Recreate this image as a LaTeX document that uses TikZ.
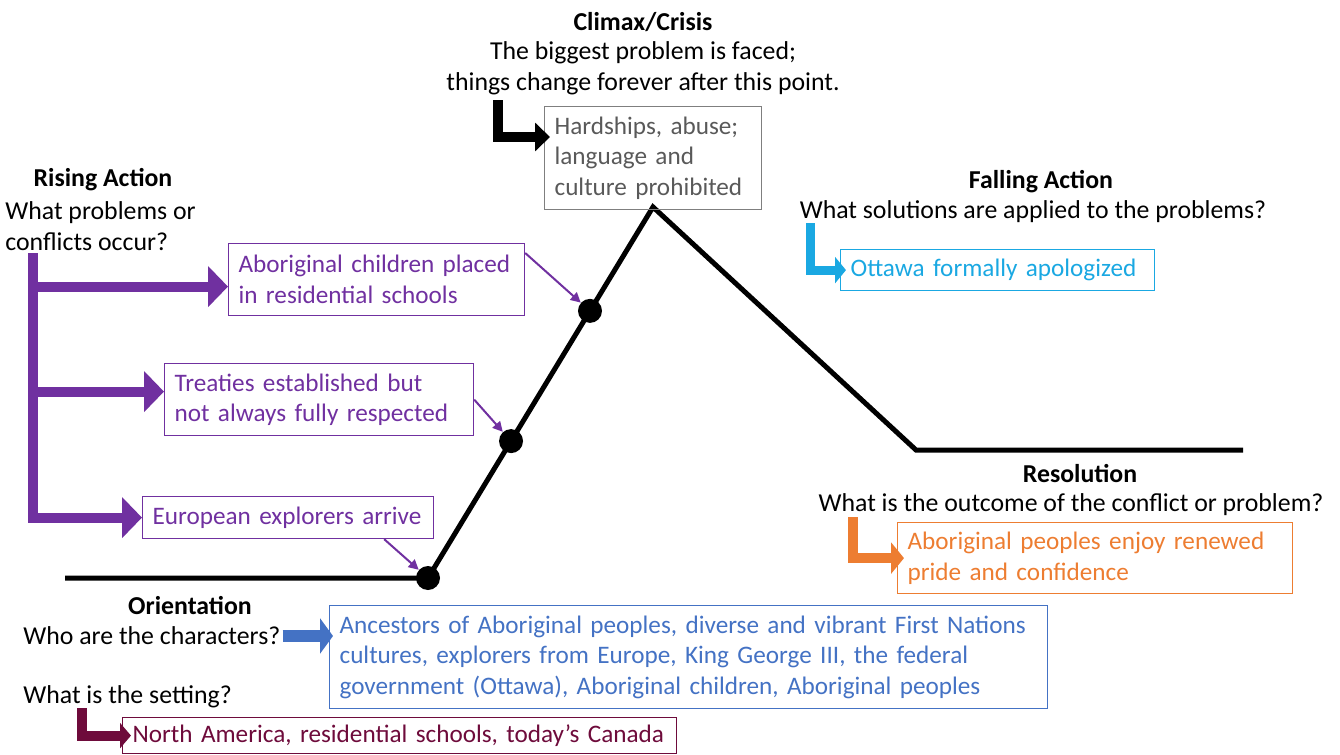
\documentclass[tikz,border=0pt]{standalone}
\usepackage{fontspec}
\setmainfont{Carlito}
\usepackage{xcolor}
\usetikzlibrary{calc, positioning, arrows.meta}
\definecolor{arcPurple}{HTML}{7030A0}
\definecolor{arcCyan}{HTML}{1AA8E2}
\definecolor{arcOrange}{HTML}{ED7D31}
\definecolor{arcBlue}{HTML}{4472C4}
\definecolor{arcMaroon}{HTML}{6E0B3B}
\definecolor{arcGrey}{HTML}{7F7F7F}
\definecolor{arcGreyText}{HTML}{595959}
\tikzset{
    plotline/.style={line width=2.5pt, draw=black},
    plotdot/.style={circle, fill=black, inner sep=0pt, minimum size=12pt},
    heading/.style={font=\fontsize{12.9}{15.3}\selectfont\bfseries, inner sep=0pt},
    question/.style={font=\fontsize{12.9}{15.3}\selectfont, inner sep=0pt, align=center},
    event/.style={rectangle, draw=#1, text=#1, line width=0.6pt, anchor=north west, align=left, inner xsep=5pt, inner ysep=0pt, font=\fontsize{12.6}{15.3}\selectfont},
    fatarrow/.style n args={4}{draw=#1, line width=#2, -{Triangle[length=#3, width=#4]}},
    pointer/.style={draw=arcPurple, line width=1pt, -{Triangle[length=5pt, width=5pt]}}
}
\begin{document}
\begin{tikzpicture}[x=0.5pt, y=-0.5pt]
    \useasboundingbox (0,0) rectangle (1340,755);

    % Plot line
    \coordinate (plotStart) at (65,578);
    \coordinate (turnUp) at (428,578);
    \coordinate (peak) at (653,207);
    \coordinate (valley) at (916,450);
    \coordinate (plotEnd) at (1243,450);
    \draw[plotline] (plotStart) -- (turnUp) -- (peak) -- (valley) -- (plotEnd);
    \node[plotdot] (dotEuro) at (turnUp) {};
    \node[plotdot] (dotTreaty) at ($(turnUp)!0.369!(peak)$) {};
    \node[plotdot] (dotSchool) at ($(turnUp)!0.72!(peak)$) {};

    % Headings and questions
    \node[heading] (climaxHead) at (643,22) {Climax/Crisis};
    \node[question] (climaxQ) at (643,68) {The biggest problem is faced;\\things change forever after this point.};
    \node[heading] (risingHead) at (103,180) {Rising Action};
    \node[question, align=left, anchor=west] (risingQ) at (5,226) {What problems or\\conflicts occur?};
    \node[heading] (fallingHead) at (1041,182) {Falling Action};
    \node[question] (fallingQ) at (1033,212) {What solutions are applied to the problems?};
    \node[heading] (resolutionHead) at (1080,474) {Resolution};
    \node[question] (resolutionQ) at (1071,505) {What is the outcome of the conflict or problem?};
    \node[heading] (orientHead) at (190,606) {Orientation};
    \node[question, anchor=west] (charQ) at (23,636) {Who are the characters?};
    \node[question, anchor=west] (settingQ) at (23,697) {What is the setting?};

    % Event boxes
    \node[event=arcGrey, text=arcGreyText, text width=98.5pt, minimum height=51.5pt] (hardshipBox) at (544,106) {Hardships, abuse;\\language and\\culture prohibited};
    \node[event=arcPurple, text width=138pt, minimum height=36pt] (schoolBox) at (228,243) {Aboriginal children placed\\in residential schools};
    \node[event=arcPurple, text width=144.5pt, minimum height=36pt] (treatyBox) at (164,363) {Treaties established but\\not always fully respected};
    \node[event=arcPurple, text width=135.5pt, minimum height=21pt] (euroBox) at (142,496) {European explorers arrive};
    \node[event=arcCyan, text width=147pt, minimum height=20.5pt] (ottawaBox) at (840,249) {Ottawa formally apologized};
    \node[event=arcOrange, text width=187.5pt, minimum height=35.5pt] (prideBox) at (897,522) {Aboriginal peoples enjoy renewed\\pride and confidence};
    \node[event=arcBlue, text width=349pt, minimum height=51.5pt] (peopleBox) at (329,605) {Ancestors of Aboriginal peoples, diverse and vibrant First Nations\\cultures, explorers from Europe, King George III, the federal\\government (Ottawa), Aboriginal children, Aboriginal peoples};
    \node[event=arcMaroon, text width=267pt, minimum height=18pt] (placeBox) at (122,717) {North America, residential schools, today's Canada};

    % Bent arrows
    \coordinate (climaxFoot) at (498,100);
    \coordinate (climaxTip) at (550,137);
    \draw[fatarrow={black}{5pt}{7.5pt}{14pt}] (climaxFoot) |- (climaxTip);

    \coordinate (risingRoot) at (33,253);
    \coordinate (schoolTip) at ([yshift=-3.5pt]schoolBox.west);
    \coordinate (treatyTip) at ([yshift=4pt]treatyBox.west);
    \draw[fatarrow={arcPurple}{5pt}{10pt}{20pt}] (risingRoot) |- (euroBox.west);
    \draw[fatarrow={arcPurple}{5pt}{10pt}{20pt}] (risingRoot |- schoolTip) -- (schoolTip);
    \draw[fatarrow={arcPurple}{5pt}{10pt}{20pt}] (risingRoot |- treatyTip) -- (treatyTip);

    \coordinate (fallingFoot) at (810,223);
    \draw[fatarrow={arcCyan}{4.5pt}{5.5pt}{13pt}] (fallingFoot) |- ([xshift=3pt]ottawaBox.west);
    \coordinate (resolutionFoot) at (853,517);
    \draw[fatarrow={arcOrange}{5pt}{6.5pt}{15.5pt}] (resolutionFoot) |- ([xshift=3.5pt]prideBox.west);
    \coordinate (settingFoot) at (82,708);
    \draw[fatarrow={arcMaroon}{5pt}{5.5pt}{12.5pt}] (settingFoot) |- ([xshift=4.5pt]placeBox.west);
    \coordinate (charTip) at (333,638);
    \draw[fatarrow={arcBlue}{6pt}{6.5pt}{17.5pt}] ([xshift=1pt]charQ.east) -- (charQ.east -| charTip);

    % Pointers to the plot
    \draw[pointer] ([yshift=-5pt]schoolBox.north east) -- (dotSchool);
    \draw[pointer] (treatyBox.east) -- (dotTreaty);
    \draw[pointer] ([xshift=-25pt]euroBox.south east) -- (dotEuro);
\end{tikzpicture}
\end{document}
